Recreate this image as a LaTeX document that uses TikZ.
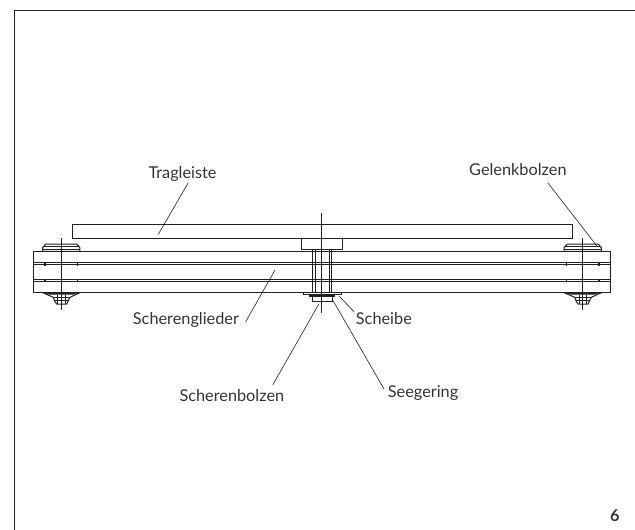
\documentclass[tikz,border=0pt]{standalone}
\usepackage{fontspec}
\setmainfont{Lato}
\definecolor{inkc}{gray}{0.13}
\definecolor{txtc}{gray}{0.2}
\tikzset{
  part/.style={draw=inkc,line width=1pt,fill=white},
  edge/.style={draw=inkc,line width=1pt},
  band/.style={draw=inkc,line width=1pt},
  thin part/.style={draw=inkc,line width=0.6pt},
  leader/.style={draw=inkc,line width=0.6pt},
  label/.style={anchor=base west,inner sep=0pt,text=txtc,font=\fontsize{16.3}{18}\selectfont},
  pinset/.pic={
    % head
    \draw[part] (-18.6,251.3) -- (-18.6,247.5) -- (-15.5,244) -- (15.5,244) -- (18.6,247.5) -- (18.6,251.3) -- cycle;
    \draw[thin part] (-18,246.2) -- (18,246.2) (-18.6,249.3) -- (18.6,249.3);
    % ticks on the plates
    \draw[line width=1.2pt,draw=inkc] (-16.3,261.5) -- (-16.3,265.5) (16.3,261.5) -- (16.3,265.5)
      (-16.3,278.5) -- (-16.3,282) (16.3,278.5) -- (16.3,282);
    % nut
    \draw[part] (-18.6,292.7) -- (-8,297.3) -- (-6.3,301.7) -- (-4.6,304) -- (5.4,304) -- (7.7,299) -- (8.7,297.3) -- (18.6,292.7) -- cycle;
    \fill[inkc] (-18.6,292.2) -- (18.6,292.2) -- (12,294.6) -- (-12,294.6) -- cycle;
    \draw[thin part] (-8,297.3) -- (8.7,297.3) (-6.3,300.7) -- (7.2,300.7) (-3.8,295) -- (-3.8,304) (3.8,295) -- (3.8,304);
    % axis
    \draw[edge] (0,238.3) -- (0,310);
  }
}
\begin{document}
\begin{tikzpicture}[x=1pt,y=-1pt]
\useasboundingbox (0,0) rectangle (635,530);
% frame
\draw[edge] (14,530) -- (14,10.5) -- (635,10.5);
% Tragleiste
\draw[part] (72,224) rectangle (572,238.4);
% plates
\draw[part] (33.5,251.3) rectangle (610.7,292.3);
\draw[band] (33.5,262.8) -- (610.7,262.8) (33.5,264.5) -- (610.7,264.5)
            (33.5,279.4) -- (610.7,279.4) (33.5,281.1) -- (610.7,281.1);
% pins
\pic at (61.3,0) {pinset};
\pic at (582.7,0) {pinset};
% centre bolt
\draw[edge] (312.7,249.7) -- (312.7,292.3) (331.7,249.7) -- (331.7,292.3);
\draw[thin part] (315.2,249.7) -- (315.2,292.3) (329.2,249.7) -- (329.2,292.3);
\draw[part] (301.7,238.4) rectangle (342.3,249.7);
\draw[line width=1.6pt,draw=inkc] (310,238.4) -- (334,238.4);
\draw[part] (312.3,296) rectangle (332.3,301);
\draw[part,line width=0.8pt] (303.3,292.3) rectangle (341,294.4);
\fill[inkc] (309,294.3) rectangle (335,297);
\draw[edge] (321.7,212.7) -- (321.7,312.7);
% labels
\node[label] (trag) at (148.3,178.3) {Tragleiste};
\node[label] (gelenk) at (469,175) {Gelenkbolzen};
\node[label] (glieder) at (132.7,324) {Scherenglieder};
\node[label] (bolzen) at (179.3,401.7) {Scherenbolzen};
\node[label] (scheibe) at (355.7,324) {Scheibe};
\node[label] (seeger) at (387.7,397.7) {Seegering};
\node[anchor=base west,inner sep=0pt,text=txtc,font=\fontsize{16.3}{18}\selectfont\bfseries] (num) at (610,521.7) {6};
% leader ends
\coordinate (tragS) at (188.3,182.7);   \coordinate (tragE) at (158.3,234.3);
\coordinate (gelS) at (547.7,182.7);    \coordinate (gelE) at (596.7,245.7);
\coordinate (gliS) at (245.7,321.7);    \coordinate (gliE) at (275,270);
\coordinate (bolS) at (272.7,385);      \coordinate (bolE) at (318.7,304.3);
\coordinate (schS) at (354,311.7);      \coordinate (schE) at (339,296);
\coordinate (seeS) at (384,389);        \coordinate (seeE) at (332.7,300);
\draw[leader] (tragS) -- (tragE);
\draw[leader] (gelS) -- (gelE);
\draw[leader] (gliS) -- (gliE);
\draw[leader] (bolS) -- (bolE);
\draw[leader] (schS) -- (schE);
\draw[leader] (seeS) -- (seeE);
\end{tikzpicture}
\end{document}
